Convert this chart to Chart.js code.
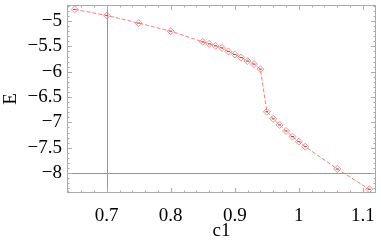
<!DOCTYPE html>
<html>
<head>
<meta charset="utf-8">
<script src="https://cdn.jsdelivr.net/npm/chart.js@4"></script>
<style>
  html, body { margin: 0; padding: 0; background: #fff; }
  #wrap { width: 381px; height: 242px; }
</style>
</head>
<body>
<div id="wrap"><canvas id="c"></canvas></div>
<script>
// values
var c1 = [0.65, 0.70, 0.75, 0.80, 0.85, 0.86, 0.87, 0.88, 0.89, 0.90, 0.91, 0.92, 0.93, 0.94,
          0.95, 0.96, 0.97, 0.98, 0.99, 1.00, 1.01, 1.06, 1.11]
var energy = [-4.77, -4.89, -5.04, -5.20, -5.41, -5.45, -5.49, -5.53, -5.60, -5.66, -5.72, -5.79, -5.85, -5.95,
              -6.79, -6.93, -7.05, -7.17, -7.28, -7.38, -7.48, -7.92, -8.32]

var xTicks = [0.7, 0.8, 0.9, 1.0, 1.1]
var yTicks = [-8, -7.5, -7, -6.5, -6, -5.5, -5]
var xMinor = [0.64, 0.66, 0.68, 0.72, 0.74, 0.76, 0.78, 0.82, 0.84, 0.86, 0.88, 0.92, 0.94, 0.96, 0.98, 1.02, 1.04, 1.06, 1.08, 1.12]
var yMinor = [-8.3, -8.2, -8.1, -7.9, -7.8, -7.7, -7.6, -7.4, -7.3, -7.2, -7.1, -6.9, -6.8, -6.7, -6.6,
              -6.4, -6.3, -6.2, -6.1, -5.9, -5.8, -5.7, -5.6, -5.4, -5.3, -5.2, -5.1, -4.9, -4.8, -4.7]

var points = c1.map((x, i) => ({ x: x, y: energy[i] }))

function fmt(v) {
  var s = String(Math.round(v * 10) / 10)
  return s.replace('-', '\u2212')
}

// Mathematica-like frame: inward ticks on all four sides, plus the axes at x=0.7, y=-8
var framePlugin = {
  id: 'frame',
  beforeDatasetsDraw(chart) {
    var ctx = chart.ctx
    var a = chart.chartArea
    var xs = chart.scales.x
    var ys = chart.scales.y
    ctx.save()
    ctx.lineWidth = 1
    ctx.strokeStyle = '#999'
    ctx.beginPath()
    var ax = Math.round(xs.getPixelForValue(0.7)) + 0.5
    var ay = Math.round(ys.getPixelForValue(-8)) + 0.5
    ctx.moveTo(ax, a.top); ctx.lineTo(ax, a.bottom)
    ctx.moveTo(a.left, ay); ctx.lineTo(a.right, ay)
    ctx.stroke()

    ctx.strokeStyle = '#aaa'
    ctx.strokeRect(a.left + 0.5, a.top + 0.5, a.right - a.left - 1, a.bottom - a.top - 1)
    ctx.beginPath()
    function xt(v, len) {
      var p = Math.round(xs.getPixelForValue(v)) + 0.5
      if (p < a.left || p > a.right) return
      ctx.moveTo(p, a.bottom); ctx.lineTo(p, a.bottom - len)
      ctx.moveTo(p, a.top); ctx.lineTo(p, a.top + len)
    }
    function yt(v, len) {
      var p = Math.round(ys.getPixelForValue(v)) + 0.5
      if (p < a.top || p > a.bottom) return
      ctx.moveTo(a.left, p); ctx.lineTo(a.left + len, p)
      ctx.moveTo(a.right, p); ctx.lineTo(a.right - len, p)
    }
    xTicks.forEach(v => xt(v, 5))
    xMinor.forEach(v => xt(v, 2.5))
    yTicks.forEach(v => yt(v, 5))
    yMinor.forEach(v => yt(v, 2.5))
    ctx.stroke()
    ctx.restore()
  }
}

new Chart(document.getElementById('c'), {
  type: 'scatter',
  data: {
    datasets: [
      {
        data: points,
        showLine: true,
        borderColor: 'rgba(255,90,90,0.8)',
        borderWidth: 1,
        borderDash: [4, 2],
        pointStyle: 'rectRot',
        pointRadius: 3.5,
        pointBorderWidth: 1,
        pointBorderColor: 'rgba(255,110,110,0.8)',
        pointBackgroundColor: 'rgba(0,0,0,0)',
      },
      {
        data: points,
        showLine: false,
        pointStyle: 'line',
        pointRadius: 1.5,
        pointBorderWidth: 1,
        pointBorderColor: 'rgba(40,40,40,0.8)',
      },
    ],
  },
  plugins: [framePlugin],
  options: {
    responsive: true,
    maintainAspectRatio: false,
    animation: false,
    layout: { padding: { top: 0, right: 1, left: 0, bottom: 0 } },
    plugins: { legend: { display: false }, tooltip: { enabled: false } },
    scales: {
      x: {
        type: 'linear',
        min: 0.638,
        max: 1.1205,
        afterBuildTicks: (s) => { s.ticks = xTicks.map(v => ({ value: v })) },
        afterFit: (s) => { s.height = 49; s.paddingLeft = 0; s.paddingRight = 0 },
        grid: { display: false, drawTicks: false },
        border: { display: false },
        ticks: {
          padding: 12,
          color: '#000',
          maxRotation: 0,
          font: { family: 'Liberation Serif', size: 19 },
          callback: (v) => fmt(v),
        },
        title: {
          display: true,
          text: 'c1',
          color: '#000',
          padding: { top: 0, bottom: 0 },
          font: { family: 'Liberation Serif', size: 19 },
        },
      },
      y: {
        type: 'linear',
        min: -8.394,
        max: -4.683,
        afterBuildTicks: (s) => { s.ticks = yTicks.map(v => ({ value: v })) },
        afterFit: (s) => { s.width = 67; s.paddingTop = 0; s.paddingBottom = 0 },
        grid: { display: false, drawTicks: false },
        border: { display: false },
        ticks: {
          padding: 5,
          color: '#000',
          font: { family: 'Liberation Serif', size: 19 },
          callback: (v) => fmt(v),
        },
        title: {
          display: true,
          text: 'E',
          color: '#000',
          padding: { top: 0, bottom: 0 },
          font: { family: 'Liberation Serif', size: 19 },
        },
      },
    },
  },
})
</script>
</body>
</html>
